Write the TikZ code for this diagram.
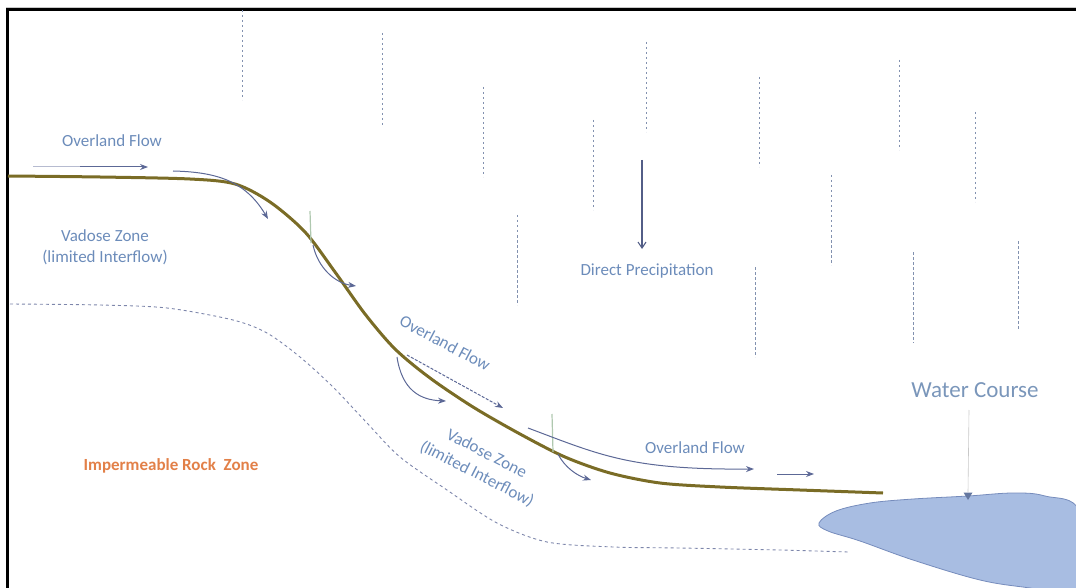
\documentclass[tikz,border=0pt]{standalone}
\usepackage{fontspec}
\setmainfont{Carlito}
\usetikzlibrary{arrows.meta}

\definecolor{groundline}{RGB}{122,108,38}
\definecolor{labelblue}{RGB}{108,140,186}
\definecolor{coursegray}{RGB}{122,150,186}
\definecolor{flowarrow}{RGB}{92,104,150}
\definecolor{rainline}{RGB}{130,145,175}
\definecolor{rockorange}{RGB}{226,128,72}
\definecolor{waterfill}{RGB}{168,189,226}
\definecolor{wateredge}{RGB}{118,140,188}
\definecolor{faintgreen}{RGB}{175,200,175}
\definecolor{framegray}{RGB}{200,200,200}

\tikzset{
  lbl/.style={text=labelblue, font=\fontsize{17}{21}\selectfont, inner sep=0pt, align=center},
  rain/.style={draw=rainline, line width=1pt, dash pattern=on 2.5pt off 2.5pt},
  flow/.style={draw=flowarrow, line width=1pt, -{Stealth[length=8pt,width=6pt]}},
  fineflow/.style={flow, dash pattern=on 3pt off 1.5pt},
  tick/.style={draw=faintgreen, line width=1.2pt},
  rockline/.style={draw=flowarrow!80, line width=0.9pt, dash pattern=on 3pt off 3pt},
}

\begin{document}
\begin{tikzpicture}[x=1pt, y=-1pt]
\useasboundingbox (0,0) rectangle (1076,588);
\clip (0,0) rectangle (1076,588);

% frame
\draw[framegray, line width=1pt] (6,7.5) -- (1076,7.5);
\draw[black, line width=3pt] (7,588) -- (7,10) -- (1076,10);

% rain streaks
\foreach \x/\ya/\yb in {242/10/100, 382/33/125, 483/87/177, 593/120/210, 646/42/132,
  759/77/167, 899/60/150, 975/112/202, 831/175/265, 517/215/305, 755/267/357,
  913/252/343, 1018/241/330}
  \draw[rain] (\x,\ya) -- (\x,\yb);

% water body
\draw[fill=waterfill, draw=wateredge, line width=0.8pt] plot[smooth cycle, tension=0.6] coordinates
  {(819,523) (836,511) (870,503) (913,499) (968,496) (1013,493) (1045,496) (1080,512)
   (1085,595) (1030,588) (980,580) (913,560) (860,541) (828,531)};

% lower limit of the vadose zone
\draw[rockline] plot[smooth, tension=0.5] coordinates
  {(10,304) (100,305) (167,308) (233,320) (267,333) (300,357) (333,387) (367,423)
   (400,457) (447,490) (497,523) (547,542) (613,547) (680,548) (780,550) (848,552)};

% ground surface
\draw[groundline, line width=3pt] plot[smooth, tension=0.5] coordinates
  {(8,176) (100,177) (190,179) (235,184) (270,202) (305,232) (335,272) (365,314)
   (395,349) (430,378) (473,407) (520,434) (565,457) (610,473) (660,483) (720,487)
   (800,490) (883,493)};

% labels
\node[lbl] (of1) at (112,141) {Overland Flow};
\node[lbl] (vz1) at (105,247) {Vadose Zone\\(limited Interflow)};
\node[lbl] (dp) at (647,271) {Direct Precipitation};
\node[lbl, rotate=-28] (of2) at (445,343) {Overland Flow};
\node[lbl, rotate=-27] (vz2a) at (487,453) {Vadose Zone};
\node[lbl, rotate=-27] (vz2b) at (477,474) {(limited Interflow)};
\node[lbl] (of3) at (695,448) {Overland Flow};
\node[lbl, text=coursegray, font=\fontsize{23}{27}\selectfont] (wc) at (975,390) {Water Course};
\node[text=rockorange, font=\bfseries\fontsize{17}{21}\selectfont, inner sep=0pt] (rock) at (171,466) {Impermeable Rock\ \ Zone};

% flow arrows
\coordinate (a1s) at (33,167);  \coordinate (a1m) at (80,167); \coordinate (a1e) at (148,167);
\draw[draw=flowarrow!45, line width=1pt] (a1s) -- (a1m);
\draw[flow] (a1m) -- (a1e);
\coordinate (a2s) at (173,171); \coordinate (a2e) at (268,219);
\draw[flow] (a2s) .. controls (215,172) and (245,180) .. (a2e);
\coordinate (t1s) at (310,211); \coordinate (t1e) at (311,243);
\draw[tick] (t1s) -- (t1e);
\coordinate (a3s) at (313,245); \coordinate (a3e) at (356,286);
\draw[flow] (a3s) .. controls (318,268) and (335,283) .. (a3e);
\coordinate (a4s) at (397,357); \coordinate (a4e) at (446,401);
\draw[flow] (a4s) .. controls (402,390) and (420,400) .. (a4e);
\coordinate (a5s) at (407,355); \coordinate (a5e) at (503,408);
\draw[fineflow] (a5s) -- (a5e);
\coordinate (t2s) at (552,414); \coordinate (t2e) at (553,452);
\draw[tick] (t2s) -- (t2e);
\coordinate (a6s) at (528,428); \coordinate (a6e) at (754,469);
\draw[flow] (a6s) .. controls (600,455) and (630,470) .. (a6e);
\coordinate (a7s) at (558,454); \coordinate (a7e) at (591,480);
\draw[flow] (a7s) .. controls (565,468) and (578,476) .. (a7e);
\coordinate (a8s) at (777,474); \coordinate (a8e) at (814,474);
\draw[flow] (a8s) -- (a8e);

% direct precipitation
\coordinate (dps) at (642,160); \coordinate (dpe) at (642,249);
\draw[draw=flowarrow!90!black, line width=1.1pt, -{Straight Barb[length=6pt,width=8pt]}] (dps) -- (dpe);

% water level mark
\coordinate (wls) at (969,410); \coordinate (wle) at (968,492);
\draw[framegray, line width=0.6pt] (wls) -- (wle);
\fill[wateredge!85!black] (963.5,492.5) -- (972.5,492.5) -- (968,500) -- cycle;
\end{tikzpicture}
\end{document}
